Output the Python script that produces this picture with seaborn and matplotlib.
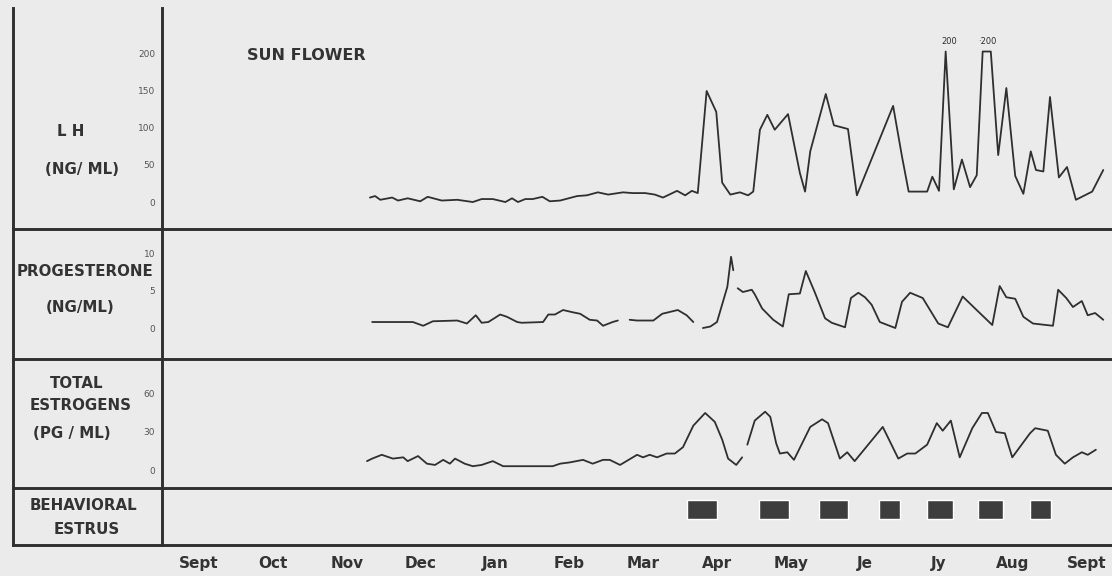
import matplotlib
matplotlib.use("Agg")
import matplotlib.pyplot as plt
import numpy as np
import pandas as pd
import seaborn as sns

# x values are in months counted from Sept 1 (0 = start of Sept)
lh_month = [2.81, 2.88, 2.95, 3.11, 3.19, 3.32, 3.49, 3.59, 3.78, 3.99, 4.20, 4.32,
            4.47, 4.64, 4.73, 4.81, 4.91, 5.01, 5.14, 5.24, 5.38, 5.61, 5.74, 5.89,
            6.03, 6.23, 6.36, 6.53, 6.66, 6.77, 6.96, 7.07, 7.16, 7.24, 7.36, 7.49,
            7.57, 7.68, 7.81, 7.92, 7.99, 8.08, 8.18, 8.28, 8.46, 8.62, 8.69, 8.76,
            8.97, 9.08, 9.27, 9.39, 9.88, 10.00, 10.09, 10.34, 10.41, 10.50, 10.59,
            10.70, 10.81, 10.92, 11.01, 11.09, 11.20, 11.30, 11.41, 11.53, 11.64,
            11.74, 11.81, 11.91, 12.00, 12.12, 12.23, 12.35, 12.57, 12.72]
lh_value = [6, 8, 3, 6, 2, 5, 1, 7, 2, 3, 0, 4,
            4, 0, 5, 0, 4, 4, 7, 1, 2, 8, 9, 13,
            10, 13, 12, 12, 10, 6, 15, 9, 15, 12, 149, 121,
            26, 10, 13, 9, 14, 97, 117, 97, 118, 39, 14, 68,
            145, 103, 98, 9, 129, 61, 14, 14, 34, 15, 202,
            17, 57, 20, 36, 202, 202, 63, 153, 35, 11,
            68, 43, 41, 141, 33, 47, 3, 14, 43]

# None marks a break in the printed trace
prog_month = [2.84, 3.39, 3.53, 3.66, 3.99, 4.12, 4.24, 4.32, 4.41, 4.57, 4.66, 4.80,
              4.86, 5.15, 5.22, 5.31, 5.42, 5.55, 5.65, 5.78, 5.88, 5.96, 6.09, 6.16,
              6.24, 6.32, 6.42, 6.64, 6.76, 6.97, 7.09, 7.18, 7.25, 7.31, 7.41, 7.50,
              7.64, 7.69, 7.72, 7.75, 7.78, 7.85, 7.97, 8.01, 8.11, 8.26, 8.39, 8.47,
              8.62, 8.70, 8.82, 8.96, 9.05, 9.23, 9.31, 9.41, 9.50, 9.59, 9.70, 9.91,
              10.00, 10.11, 10.28, 10.49, 10.62, 10.82, 11.03, 11.22, 11.32, 11.41,
              11.53, 11.64, 11.77, 12.04, 12.11, 12.22, 12.31, 12.43, 12.51, 12.61, 12.72]
prog_value = [0.8, 0.8, 0.3, 0.9, 1.0, 0.6, 1.7, 0.7, 0.8, 1.8, 1.5, 0.8,
              0.7, 0.8, 1.8, 1.8, 2.4, 2.1, 1.9, 1.1, 1.0, 0.3, 0.8, 1.0,
              None, 1.1, 1.0, 1.0, 1.9, 2.4, 1.7, 0.8, None, 0.0, 0.2, 0.8,
              5.5, 9.5, 7.7, None, 5.3, 4.8, 5.1, 4.5, 2.6, 1.1, 0.2, 4.5,
              4.6, 7.6, 4.8, 1.3, 0.7, 0.1, 4.0, 4.7, 4.1, 3.1, 0.8, 0.0,
              3.5, 4.7, 4.0, 0.6, 0.1, 4.2, 2.2, 0.4, 5.6, 4.1,
              3.9, 1.5, 0.6, 0.3, 5.1, 4.0, 2.8, 3.6, 1.7, 2.0, 1.1]

estr_month = [2.77, 2.84, 2.97, 3.12, 3.26, 3.32, 3.46, 3.58, 3.69, 3.80, 3.89, 3.96,
              4.09, 4.20, 4.32, 4.47, 4.61, 4.80, 5.07, 5.28, 5.38, 5.51, 5.69, 5.82,
              5.96, 6.05, 6.19, 6.42, 6.50, 6.59, 6.69, 6.82, 6.93, 7.04, 7.18, 7.34,
              7.47, 7.57, 7.65, 7.76, 7.84, 7.87, 7.91, 8.01, 8.15, 8.22, 8.30, 8.35,
              8.45, 8.54, 8.76, 8.92, 9.00, 9.16, 9.26, 9.36, 9.74, 9.95, 10.07, 10.18,
              10.34, 10.47, 10.55, 10.66, 10.78, 10.95, 11.08, 11.16, 11.27, 11.39,
              11.49, 11.73, 11.80, 11.97, 12.08, 12.20, 12.31, 12.43, 12.51, 12.62]
estr_value = [7, 9, 12, 9, 10, 7, 11, 5, 4, 8, 5, 9,
              5, 3, 4, 7, 3, 3, 3, 3, 5, 6, 8, 5,
              8, 8, 4, 12, 10, 12, 10, 13, 13, 18, 35, 45,
              38, 24, 9, 4, 10, None, 20, 39, 46, 42, 21, 13,
              14, 8, 34, 40, 37, 9, 14, 7, 34, 9, 13, 13,
              20, 37, 31, 39, 10, 33, 45, 45, 30, 29,
              10, 29, 33, 31, 12, 5, 10, 14, 12, 16]

estrus_start = [7.09, 8.07, 8.88, 9.69, 10.34, 11.03, 11.73]
estrus_end = [7.50, 8.47, 9.27, 9.97, 10.69, 11.36, 12.01]

month_labels = ["Sept", "Oct", "Nov", "Dec", "Jan", "Feb", "Mar", "Apr",
                "May", "Je", "Jy", "Aug", "Sept"]

INK = "#2f2f2f"
PAPER = "#ebebeb"

sns.set_style("white")
plt.rcParams["font.family"] = ["DejaVu Sans"]

W, H = 1112, 576
fig = plt.figure(figsize=(W / 100, H / 100), dpi=100, facecolor=PAPER)


def rect(x0, x1, top, bottom):
    return [x0 / W, 1 - bottom / H, (x1 - x0) / W, (bottom - top) / H]


rows = [(8, 229), (229, 359), (359, 488), (488, 545)]
ylims = [(-36.2, 260.4), (-4.13, 13.2), (-14.2, 87.6), (0, 1)]
yticks = [[0, 50, 100, 150, 200], [0, 5, 10], [0, 30, 60], []]
xmax = (1112 - 162) / 74

data_axes = []
for (top, bottom), yl, yt in zip(rows, ylims, yticks):
    lab = fig.add_axes(rect(13, 162, top, bottom))
    ax = fig.add_axes(rect(162, 1112, top, bottom))
    for a in (lab, ax):
        a.set_facecolor("none")
        for s in ("top", "right"):
            a.spines[s].set_visible(False)
        for s in ("left", "bottom"):
            a.spines[s].set_color(INK)
            a.spines[s].set_linewidth(2.1)
    lab.set_xticks([])
    lab.set_yticks([])
    ax.set_xlim(0, xmax)
    ax.set_ylim(*yl)
    ax.set_yticks(yt)
    ax.set_yticklabels([str(t) for t in yt], fontsize=6.5, color="#555555")
    ax.tick_params(axis="y", direction="inout", length=10, width=1, color=INK, pad=0)
    ax.set_xticks([])
    ax.set_xlabel("")
    ax.set_ylabel("")
    data_axes.append(ax)

ax_lh, ax_pr, ax_es, ax_be = data_axes


def segments(month, value):
    df = pd.DataFrame({"month": month, "value": pd.to_numeric(pd.Series(value), errors="coerce")})
    df["seg"] = df["value"].isna().cumsum()
    return df.dropna()


line_kw = dict(x="month", y="value", units="seg", estimator=None, sort=False,
               color=INK, lw=1.3, legend=False)
sns.lineplot(data=segments(lh_month, lh_value), ax=ax_lh, **line_kw)
sns.lineplot(data=segments(prog_month, prog_value), ax=ax_pr, **line_kw)
sns.lineplot(data=segments(estr_month, estr_value), ax=ax_es, **line_kw)
for ax in data_axes[:3]:
    ax.set_xlabel("")
    ax.set_ylabel("")
    ax.set_xlim(0, xmax)

ax_lh.text(10.64, 212, "200", fontsize=6, ha="center", color=INK)
ax_lh.text(11.15, 212, "\u00b7200", fontsize=6, ha="center", color=INK)

# behavioral estrus blocks
starts = np.array(estrus_start)
widths = np.array(estrus_end) - starts
ax_be.bar(starts, 0.34, width=widths, bottom=0.45, align="edge", color="#3d3d3d")
ax_be.set_ylim(0, 1)
ax_be.set_xticks(np.arange(1, 13))
ax_be.set_xticklabels([])
ax_be.tick_params(axis="x", direction="in", length=8.5, width=1, color=INK)
ax_be.set_xticks(np.arange(len(month_labels)) + 0.5, minor=True)
ax_be.set_xticklabels(month_labels, minor=True, fontsize=11, fontweight="bold", color="#333333")
ax_be.tick_params(axis="x", which="minor", length=0, pad=8)


def label(x, y, s, size=10.8, ha="center"):
    fig.text(x / W, 1 - y / H, s, ha=ha, va="center", fontsize=size,
             fontweight="bold", color="#333333")


label(247, 55, "SUN FLOWER", size=11.5, ha="left")
label(71, 132, "L H")
label(82, 170, "(NG/ ML)")
label(85, 272, "PROGESTERONE")
label(80, 308, "(NG/ML)")
label(77, 383, "TOTAL")
label(81, 406, "ESTROGENS")
label(72, 433, "(PG / ML)")
label(83, 506, "BEHAVIORAL")
label(87, 529, "ESTRUS")

fig.savefig("out.png", dpi=100, facecolor=PAPER)
